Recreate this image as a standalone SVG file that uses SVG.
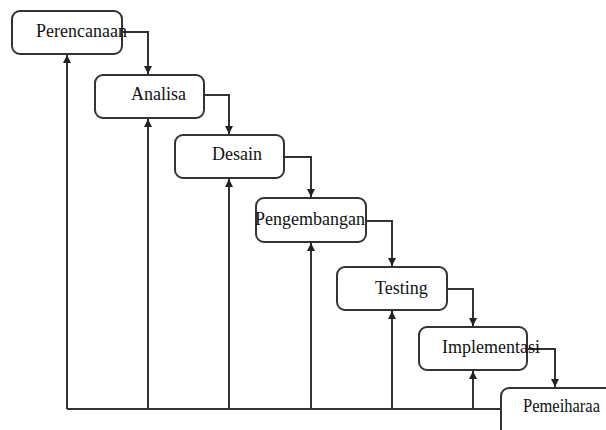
<svg xmlns="http://www.w3.org/2000/svg" width="606" height="430" viewBox="0 0 606 430">
<style>
.box{fill:#fff;stroke:#333;stroke-width:2}
.lbl{font-family:"Liberation Serif","DejaVu Serif","Times New Roman",serif;font-size:18px;fill:#111}
.ln{fill:none;stroke:#333;stroke-width:2}
</style>
<defs>
<marker id="ah" viewBox="0 0 10 10" refX="10" refY="5" markerWidth="4" markerHeight="5" markerUnits="strokeWidth" orient="auto">
<path d="M0,0 L10,5 L0,10 Z" fill="#222"/>
</marker>
</defs>
<rect width="606" height="430" fill="#fff"/>
<g id="connectors">
<path class="ln" d="M67,409 H501"/>
<path class="ln" d="M67,409 V55" marker-end="url(#ah)"/>
<path class="ln" d="M148,409 V119" marker-end="url(#ah)"/>
<path class="ln" d="M229,409 V179" marker-end="url(#ah)"/>
<path class="ln" d="M311,409 V243" marker-end="url(#ah)"/>
<path class="ln" d="M392,409 V311" marker-end="url(#ah)"/>
<path class="ln" d="M473,409 V371" marker-end="url(#ah)"/>
<path class="ln" d="M122,32 H148 V74" marker-end="url(#ah)"/>
<path class="ln" d="M204,95 H229 V134" marker-end="url(#ah)"/>
<path class="ln" d="M284,157 H311 V197" marker-end="url(#ah)"/>
<path class="ln" d="M366,221 H392 V266" marker-end="url(#ah)"/>
<path class="ln" d="M447,289 H473 V326" marker-end="url(#ah)"/>
<path class="ln" d="M527,349 H555 V387" marker-end="url(#ah)"/>
</g>
<g id="perencanaan"><rect class="box" x="12" y="11" width="110" height="43" rx="8"/><text class="lbl" x="36" y="37">Perencanaan</text></g>
<g id="analisa"><rect class="box" x="95" y="75" width="109" height="43" rx="8"/><text class="lbl" x="131" y="100">Analisa</text></g>
<g id="desain"><rect class="box" x="175" y="135" width="109" height="43" rx="8"/><text class="lbl" x="212" y="160">Desain</text></g>
<g id="pengembangan"><rect class="box" x="256" y="198" width="110" height="44" rx="8"/><text class="lbl" x="255" y="225">Pengembangan</text></g>
<g id="testing"><rect class="box" x="337" y="267" width="110" height="43" rx="8"/><text class="lbl" x="375" y="294">Testing</text></g>
<g id="implementasi"><rect class="box" x="419" y="327" width="108" height="43" rx="8"/><text class="lbl" x="442" y="353">Implementasi</text></g>
<g id="pemeiharaa"><rect class="box" x="501" y="388" width="120" height="50" rx="8"/><text class="lbl" x="523" y="412" textLength="77" lengthAdjust="spacingAndGlyphs">Pemeiharaa</text></g>
</svg>
